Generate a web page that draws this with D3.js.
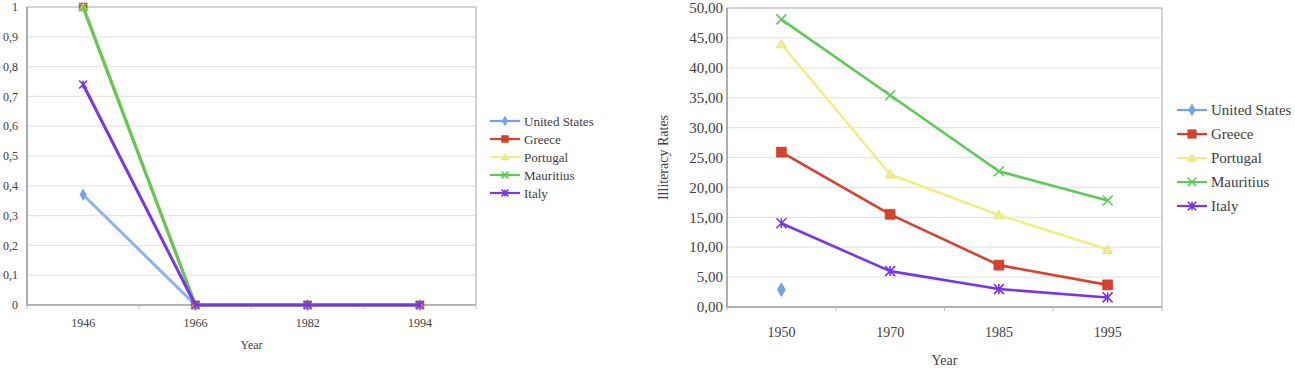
<!DOCTYPE html>
<html>
<head>
<meta charset="utf-8">
<title>Illiteracy rates</title>
<style>
  body { margin: 0; background: #fff; }
</style>
</head>
<body>
<main></main>
<script src="https://cdn.jsdelivr.net/npm/d3@7/dist/d3.min.js"></script>
<script>
// ---- data ----
var countries = ["United States", "Greece", "Portugal", "Mauritius", "Italy"];
var colors = ["#74a2ee", "#d8412f", "#f0ee84", "#5ccb55", "#7b35e8"];
var shapes = ["diamond", "square", "triangle", "cross", "star"];

// left chart
var leftYears = ["1946", "1966", "1982", "1994"];
var leftTicks = [0, 0.1, 0.2, 0.3, 0.4, 0.5, 0.6, 0.7, 0.8, 0.9, 1];
var leftUS = [0.37, 0, 0, 0];
var leftGreece = [1, 0, 0, 0];
var leftPortugal = [1, 0, 0, 0];
var leftMauritius = [1, 0, 0, 0];
var leftItaly = [0.74, 0, 0, 0];

// right chart
var rightYears = ["1950", "1970", "1985", "1995"];
var rightTicks = [0, 5, 10, 15, 20, 25, 30, 35, 40, 45, 50];
var rightUS = [2.9, null, null, null];
var rightGreece = [25.9, 15.5, 7.0, 3.7];
var rightPortugal = [44.0, 22.2, 15.4, 9.6];
var rightMauritius = [48.1, 35.4, 22.7, 17.8];
var rightItaly = [14.0, 6.0, 3.0, 1.6];

var W = 1295, H = 368;
var FONT = "Liberation Serif";
var svg = d3.select("main").append("svg").attr("width", W).attr("height", H)
    .style("font-family", FONT);

var locale = d3.formatLocale({decimal: ",", thousands: ".", grouping: [3], currency: ["", ""]});

function txt(g) {
    return g.append("text").style("font-family", FONT).attr("fill", "#404040");
}

function marker(g, shape, x, y, color, size) {
    var s = size / 2;
    if (shape === "cross" || shape === "star") {
        var p = "M" + (x - s) + "," + (y - s) + "L" + (x + s) + "," + (y + s) +
                "M" + (x - s) + "," + (y + s) + "L" + (x + s) + "," + (y - s);
        if (shape === "star") p += "M" + x + "," + (y - s) + "L" + x + "," + (y + s);
        g.append("path").attr("d", p).attr("stroke", color).attr("stroke-width", 1.6).attr("fill", "none");
        return;
    }
    var sym = shape === "diamond" ? d3.symbolDiamond : shape === "square" ? d3.symbolSquare : d3.symbolTriangle;
    var area = shape === "diamond" ? size * size * 0.55 : shape === "square" ? size * size : size * size * 0.45;
    g.append("path")
        .attr("d", d3.symbol().type(sym).size(area)())
        .attr("transform", "translate(" + x + "," + (shape === "triangle" ? y + 1 : y) + ")")
        .attr("fill", color)
        .attr("stroke", d3.color(color).darker(0.3))
        .attr("stroke-width", 0.6);
}

function chart(o) {
    var g = svg.append("g");
    var x = d3.scaleBand().domain(o.years).range([o.x0, o.x1]);
    var y = d3.scaleLinear().domain([0, o.ticks[o.ticks.length - 1]]).range([o.y1, o.y0]);

    // grid
    g.selectAll(".grid").data(o.ticks.slice(1, -1)).enter().append("line")
        .attr("x1", o.x0).attr("x2", o.x1)
        .attr("y1", function (d) { return y(d); }).attr("y2", function (d) { return y(d); })
        .attr("stroke", "#e6e6e6").attr("stroke-width", 1.2);

    // frame
    g.append("path").attr("d", "M" + o.x0 + "," + o.y0 + "H" + o.x1 + "V" + o.y1)
        .attr("fill", "none").attr("stroke", "#c8c8c8").attr("stroke-width", 1.6);
    g.append("path").attr("d", "M" + o.x0 + "," + o.y0 + "V" + o.y1 + "H" + o.x1)
        .attr("fill", "none").attr("stroke", "#9a9a9a").attr("stroke-width", 1.6);

    // x ticks at band edges
    var edges = o.years.map(function (d) { return x(d); }).concat([o.x1]);
    g.selectAll(".xt").data(edges).enter().append("line")
        .attr("x1", function (d) { return d; }).attr("x2", function (d) { return d; })
        .attr("y1", o.y1).attr("y2", o.y1 + 4)
        .attr("stroke", "#bbb").attr("stroke-width", 1);

    // y labels
    o.ticks.forEach(function (d) {
        txt(g).attr("x", o.x0 - o.labGap).attr("y", y(d))
            .attr("dy", "0.35em").attr("text-anchor", "end")
            .attr("font-size", o.yfs).text(o.fmt(d));
    });

    // x labels
    o.years.forEach(function (d) {
        txt(g).attr("x", x(d) + x.bandwidth() / 2)
            .attr("y", o.xLabY).attr("text-anchor", "middle")
            .attr("font-size", o.fs).text(d);
    });

    txt(g).attr("x", (o.x0 + o.x1) / 2).attr("y", o.titleY)
        .attr("text-anchor", "middle").attr("font-size", o.fs).text("Year");

    if (o.yTitle) {
        txt(g).attr("transform", "translate(" + o.yTitleX + "," + ((o.y0 + o.y1) / 2) + ") rotate(-90)")
            .attr("text-anchor", "middle").attr("dy", "0.35em")
            .attr("font-size", o.fs).text(o.yTitle);
    }

    // series
    var line = d3.line()
        .defined(function (d) { return d !== null; })
        .x(function (d, i) { return x(o.years[i]) + x.bandwidth() / 2; })
        .y(function (d) { return y(d); });

    o.series.forEach(function (vals, k) {
        var sg = g.append("g");
        sg.append("path").attr("d", line(vals))
            .attr("fill", "none").attr("stroke", o.lineColors[k]).attr("stroke-width", o.lw)
            .attr("stroke-linejoin", "round");
        vals.forEach(function (v, i) {
            if (v === null) return;
            marker(sg, shapes[k], x(o.years[i]) + x.bandwidth() / 2, y(v), colors[k], o.ms);
        });
    });

    // legend
    countries.forEach(function (c, k) {
        var ly = o.legY + k * o.legStep;
        var lg = g.append("g");
        lg.append("line").attr("x1", o.legX).attr("x2", o.legX + 30)
            .attr("y1", ly).attr("y2", ly).attr("stroke", colors[k]).attr("stroke-width", 2.2);
        marker(lg, shapes[k], o.legX + 15, ly, colors[k], o.ms * 0.85);
        txt(lg).attr("x", o.legX + 34).attr("y", ly).attr("dy", "0.35em")
            .attr("font-size", o.legFs).text(c);
    });
}

chart({
    years: leftYears, ticks: leftTicks,
    series: [leftUS, leftGreece, leftPortugal, leftMauritius, leftItaly],
    lineColors: ["#8db3ec", colors[1], colors[2], colors[3], colors[4]],
    x0: 27, x1: 476, y0: 7, y1: 305,
    fmt: locale.format("~g"), labGap: 9, fs: 12, yfs: 12,
    xLabY: 327, titleY: 349,
    lw: 3, ms: 8,
    legX: 490, legY: 121, legStep: 18, legFs: 13
});

chart({
    years: rightYears, ticks: rightTicks,
    series: [rightUS, rightGreece, rightPortugal, rightMauritius, rightItaly],
    lineColors: colors,
    x0: 727, x1: 1162, y0: 8, y1: 307,
    fmt: locale.format(".2f"), labGap: 4, fs: 14, yfs: 15,
    xLabY: 337, titleY: 365,
    yTitle: "Illiteracy Rates", yTitleX: 663,
    lw: 2.6, ms: 10,
    legX: 1177, legY: 110, legStep: 24, legFs: 15
});
</script>
</body>
</html>
